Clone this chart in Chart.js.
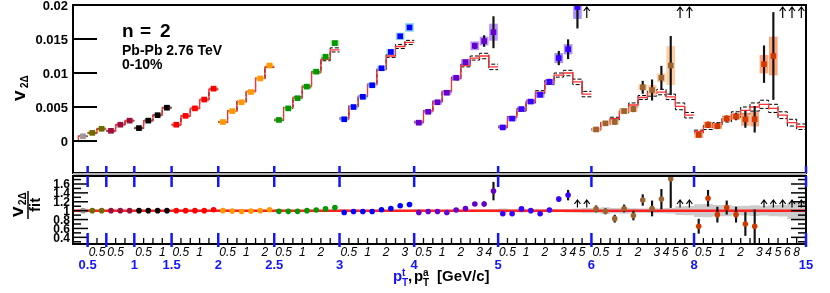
<!DOCTYPE html>
<html>
<head>
<meta charset="utf-8">
<script src="https://cdn.jsdelivr.net/npm/chart.js@4.4.0/dist/chart.umd.min.js"></script>
<style>
  html, body { margin: 0; padding: 0; background: #fff; }
  #wrap { position: relative; width: 830px; height: 293px; }
  #wrap canvas { position: absolute; left: 0; top: 0; }
</style>
</head>
<body>
<div id="wrap">
  <canvas id="topChart" width="830" height="293"></canvas>
  <canvas id="ratioChart" width="830" height="293"></canvas>
</div>
<script>
// pT bin edges (GeV/c), used for both trigger and associated bins
const ptEdges = [0.25, 0.5, 0.75, 1, 1.5, 2, 2.5, 3, 4, 5, 6, 8, 15];
// blue labels under trigger-bin edges, black italic labels under associated-bin edges
const trigLabels = ['', '0.5', '', '1', '1.5', '2', '2.5', '3', '4', '5', '6', '8', '15'];
const assocLabels = ['', '0.5', '', '1', '', '2', '', '3', '4', '5', '6', '8'];

const yTickLabelsTop = ['0', '0.005', '0.01', '0.015', '0.02'];
const yTickLabelsRatio = ['0.4', '0.6', '0.8', '1', '1.2', '1.4', '1.6'];

const groupColors = ['#9a9a9a', '#6b6b00', '#99103d', '#000000', '#ff0000', '#ff9900',
  '#009900', '#0000ff', '#6600cc', '#3a00ff', '#9c6430', '#d03a00'];
const boxColors = ['rgba(160,160,160,0.4)', 'rgba(150,150,0,0.4)', 'rgba(204,60,110,0.4)',
  'rgba(110,110,110,0.4)', 'rgba(255,110,110,0.4)', 'rgba(255,200,110,0.5)',
  'rgba(110,210,110,0.5)', 'rgba(110,200,255,0.75)', 'rgba(160,110,255,0.75)',
  'rgba(140,110,255,0.75)', 'rgba(255,200,150,0.85)', 'rgba(255,150,100,0.85)'];

// v2Δ per trigger bin (outer) and associated bin (inner); null = off scale (arrow)
const v2Vals = [
  [0.0007],
  [0.0012, 0.0018],
  [0.0015, 0.0024, 0.0030],
  [0.0019, 0.0030, 0.0038, 0.0049],
  [0.0024, 0.0037, 0.0048, 0.0061, 0.0077],
  [0.0028, 0.0044, 0.0057, 0.0072, 0.0092, 0.0111],
  [0.0031, 0.0048, 0.0063, 0.0080, 0.0102, 0.0124, 0.0144],
  [0.0032, 0.0050, 0.0065, 0.0082, 0.0107, 0.0131, 0.0154, 0.0167],
  [0.0027, 0.0043, 0.0057, 0.0071, 0.0093, 0.0116, 0.0140, 0.0147, 0.0160],
  [0.0020, 0.0033, 0.0047, 0.0058, 0.0068, 0.0087, 0.0122, 0.0135, 0.0197, null],
  [0.0017, 0.0026, 0.0028, 0.0044, 0.0047, 0.0079, 0.0075, 0.0093, 0.0111, null, null],
  [0.0009, 0.0024, 0.0022, 0.0033, 0.0036, 0.0032, 0.0032, 0.0113, 0.0125, null, null, null]
];
const v2Stat = [
  [0.0001],
  [0.0001, 0.0001],
  [0.0001, 0.0001, 0.0001],
  [0.0001, 0.0001, 0.0001, 0.0001],
  [0.0001, 0.0001, 0.0001, 0.0001, 0.0001],
  [0.0001, 0.0001, 0.0001, 0.0001, 0.0001, 0.0001],
  [0.0001, 0.0001, 0.0001, 0.0001, 0.0001, 0.0001, 0.0002],
  [0.0001, 0.0001, 0.0001, 0.0001, 0.0002, 0.0002, 0.0002, 0.0003],
  [0.0001, 0.0001, 0.0001, 0.0002, 0.0002, 0.0003, 0.0004, 0.0008, 0.0023],
  [0.0001, 0.0001, 0.0002, 0.0002, 0.0003, 0.0004, 0.0010, 0.0014, 0.0031, null],
  [0.0002, 0.0002, 0.0003, 0.0003, 0.0004, 0.0009, 0.0015, 0.0017, 0.0043, null, null],
  [0.0003, 0.0004, 0.0004, 0.0004, 0.0005, 0.0012, 0.0019, 0.0027, 0.0064, null, null, null]
];
const v2Sys = [
  [0.0002],
  [0.0002, 0.0002],
  [0.0002, 0.0002, 0.0002],
  [0.0002, 0.0002, 0.0002, 0.0002],
  [0.0002, 0.0002, 0.0002, 0.0002, 0.0002],
  [0.0002, 0.0002, 0.0002, 0.0002, 0.0002, 0.0002],
  [0.0002, 0.0002, 0.0002, 0.0003, 0.0003, 0.0003, 0.0004],
  [0.0002, 0.0002, 0.0003, 0.0003, 0.0003, 0.0004, 0.0005, 0.0006],
  [0.0002, 0.0002, 0.0003, 0.0003, 0.0003, 0.0004, 0.0006, 0.0006, 0.0012],
  [0.0002, 0.0003, 0.0003, 0.0003, 0.0004, 0.0004, 0.0007, 0.0007, 0.0017, null],
  [0.0003, 0.0003, 0.0003, 0.0004, 0.0004, 0.0004, 0.0007, 0.0006, 0.0028, null, null],
  [0.0004, 0.0004, 0.0004, 0.0004, 0.0004, 0.0009, 0.0010, 0.0013, 0.0028, null, null, null]
];
// global fit (red) and its uncertainty half-width (black dashed)
const fitVals = [
  [0.0007],
  [0.0012, 0.0018],
  [0.0015, 0.0024, 0.0030],
  [0.0019, 0.0030, 0.0038, 0.0049],
  [0.0024, 0.0037, 0.0048, 0.0061, 0.0076],
  [0.0028, 0.0044, 0.0058, 0.0073, 0.0092, 0.0109],
  [0.0031, 0.0049, 0.0064, 0.0080, 0.0101, 0.0120, 0.0134],
  [0.0033, 0.0051, 0.0066, 0.0083, 0.0105, 0.0125, 0.0139, 0.0145],
  [0.0028, 0.0044, 0.0058, 0.0073, 0.0092, 0.0111, 0.0122, 0.0125, 0.0109],
  [0.0021, 0.0035, 0.0046, 0.0058, 0.0072, 0.0086, 0.0097, 0.0100, 0.0087, 0.0069],
  [0.0017, 0.0026, 0.0033, 0.0044, 0.0053, 0.0064, 0.0070, 0.0072, 0.0065, 0.0051, 0.0038],
  [0.0014, 0.0020, 0.0024, 0.0032, 0.0039, 0.0045, 0.0050, 0.0054, 0.0048, 0.0038, 0.0027, 0.0021]
];
const fitBand = [
  [0.00003],
  [0.00003, 0.00003],
  [0.00004, 0.00004, 0.00004],
  [0.00005, 0.00005, 0.00005, 0.00005],
  [0.00006, 0.00006, 0.00006, 0.00006, 0.00006],
  [0.00008, 0.00008, 0.00008, 0.00008, 0.00008, 0.00008],
  [0.0001, 0.0001, 0.0001, 0.0001, 0.0001, 0.0002, 0.0003],
  [0.0001, 0.0001, 0.0001, 0.0001, 0.0001, 0.0002, 0.0003, 0.0003],
  [0.0001, 0.0001, 0.0001, 0.0001, 0.0002, 0.0002, 0.0003, 0.0004, 0.0004],
  [0.0001, 0.0001, 0.0002, 0.0002, 0.0002, 0.0003, 0.0003, 0.0004, 0.0004, 0.0004],
  [0.0001, 0.0002, 0.0002, 0.0003, 0.0003, 0.0003, 0.0004, 0.0004, 0.0004, 0.0005, 0.0004],
  [0.0002, 0.0003, 0.0003, 0.0004, 0.0004, 0.0005, 0.0006, 0.0006, 0.0006, 0.0005, 0.0005, 0.0004]
];
// data / fit
const ratioVals = [
  [1.0],
  [1.0, 1.0],
  [1.0, 1.0, 1.0],
  [1.0, 1.0, 1.0, 1.0],
  [1.0, 1.0, 1.0, 1.0, 1.02],
  [1.0, 0.99, 0.98, 0.99, 1.0, 1.02],
  [0.985, 0.985, 0.985, 1.0, 1.015, 1.04, 1.07],
  [0.96, 0.98, 0.98, 0.98, 1.02, 1.05, 1.11, 1.14],
  [0.96, 0.98, 0.98, 0.96, 1.015, 1.05, 1.15, 1.15, 1.44],
  [0.93, 0.93, 1.04, 1.0, 0.93, 1.015, 1.26, 1.35, null, null],
  [1.04, 0.985, 0.82, 1.05, 0.89, 1.24, 1.05, 1.26, 1.72, null, null],
  [0.65, 1.28, 0.91, 1.07, 0.91, 0.70, 0.65, null, null, null, null, null]
];
const ratioErr = [
  [0.01],
  [0.01, 0.01],
  [0.01, 0.01, 0.01],
  [0.01, 0.01, 0.01, 0.01],
  [0.01, 0.01, 0.01, 0.01, 0.01],
  [0.01, 0.01, 0.01, 0.01, 0.01, 0.01],
  [0.01, 0.01, 0.01, 0.01, 0.01, 0.02, 0.02],
  [0.01, 0.01, 0.01, 0.02, 0.02, 0.02, 0.02, 0.03],
  [0.01, 0.02, 0.02, 0.02, 0.02, 0.03, 0.03, 0.05, 0.20],
  [0.02, 0.02, 0.03, 0.03, 0.03, 0.04, 0.05, 0.11, null, null],
  [0.07, 0.06, 0.08, 0.08, 0.10, 0.12, 0.17, 0.22, 0.65, null, null],
  [0.16, 0.18, 0.17, 0.15, 0.17, 0.26, 0.37, null, null, null, null, null]
];

const X_MIN = -0.57, X_MAX = 78;
const FONT = '"Liberation Sans", Arial, Helvetica, sans-serif';
const BLUE = '#1414ff';

// flatten groups into consecutive bins
const groupStart = [];
const bins = [];
v2Vals.forEach((grp, g) => {
    groupStart.push(bins.length);
    grp.forEach((v, k) => {
        bins.push({
            g, k, x: bins.length + 0.5, v,
            stat: v2Stat[g][k], sys: v2Sys[g][k],
            fit: fitVals[g][k], band: fitBand[g][k],
            r: ratioVals[g][k], rErr: ratioErr[g][k]
        });
    });
});
const nBins = bins.length;

// histogram-style steps; broken = no vertical joins between trigger groups
const stepLine = (fn, broken) => {
    const pts = [];
    bins.forEach((b, i) => {
        if (broken && b.k === 0 && i > 0) pts.push({ x: i, y: null });
        const v = fn(b);
        pts.push({ x: i, y: v }, { x: i + 1, y: v });
    });
    return pts;
};

const withV = bins.filter(b => b.v !== null);
const withR = bins.filter(b => b.r !== null);

// helpers for drawing
const line = (ctx, x0, y0, x1, y1) => {
    ctx.beginPath(); ctx.moveTo(x0, y0); ctx.lineTo(x1, y1); ctx.stroke();
};
const arrowUp = (ctx, x, y0, y1) => {
    ctx.beginPath();
    ctx.moveTo(x, y0); ctx.lineTo(x, y1);
    ctx.moveTo(x - 3, y1 + 4); ctx.lineTo(x, y1); ctx.lineTo(x + 3, y1 + 4);
    ctx.stroke();
};
const rotText = (ctx, str, x, y, font, color) => {
    ctx.save();
    ctx.translate(x, y);
    ctx.rotate(-Math.PI / 2);
    ctx.font = font; ctx.fillStyle = color;
    ctx.textAlign = 'left'; ctx.textBaseline = 'alphabetic';
    ctx.fillText(str, 0, 0);
    ctx.restore();
};

// top panel axes, labels and arrows
const topDecor = {
    id: 'topDecor',
    afterDraw(chart) {
        const { ctx, chartArea: a, scales: { x, y } } = chart;
        ctx.save();
        ctx.strokeStyle = '#000';
        ctx.lineWidth = 2;
        ctx.strokeRect(a.left, a.top, a.right - a.left, a.bottom - a.top);

        ctx.font = 'bold 13px ' + FONT;
        ctx.fillStyle = '#000';
        ctx.textAlign = 'right';
        ctx.textBaseline = 'middle';
        yTickLabelsTop.forEach(lbl => {
            const py = y.getPixelForValue(parseFloat(lbl));
            line(ctx, a.left, py, a.left + 24, py);
            ctx.fillText(lbl, a.left - 5, py + 1);
        });

        ctx.strokeStyle = BLUE;
        ctx.lineWidth = 2.5;
        groupStart.forEach((s, g) => {
            const px = x.getPixelForValue(s + v2Vals[g].length);
            line(ctx, px, a.bottom - 7, px, a.bottom);
        });

        // off-scale arrows
        ctx.strokeStyle = '#000';
        ctx.lineWidth = 1.2;
        bins.filter(b => b.v === null).forEach(b => {
            arrowUp(ctx, x.getPixelForValue(b.x), a.top + 13, a.top + 2);
        });

        ctx.fillStyle = '#000';
        ctx.textAlign = 'left';
        ctx.textBaseline = 'alphabetic';
        ctx.font = 'bold 19px ' + FONT;
        ctx.fillText('n', 122, 37);
        ctx.fillText('=', 140, 37);
        ctx.fillText('2', 160, 37);
        ctx.font = 'bold 14px ' + FONT;
        ctx.fillText('Pb-Pb 2.76 TeV', 122, 55);
        ctx.fillText('0-10%', 122, 69);

        rotText(ctx, 'v', 25, 101, 'bold 19px ' + FONT, '#000');
        rotText(ctx, '2\u0394', 28, 88, 'bold 10px ' + FONT, '#000');
        ctx.restore();
    }
};

// ratio panel axes, labels and arrows
const ratioDecor = {
    id: 'ratioDecor',
    afterDraw(chart) {
        const { ctx, chartArea: a, scales: { x, y } } = chart;
        ctx.save();
        ctx.fillStyle = '#b4b4b4';
        ctx.fillRect(a.left, a.top - 3, a.right - a.left, 3);
        ctx.strokeStyle = '#000';
        ctx.lineWidth = 2;
        ctx.strokeRect(a.left, a.top, a.right - a.left, a.bottom - a.top);

        // y ticks every 0.1, long at labelled ones
        ctx.lineWidth = 1.5;
        for (let t = 3; t <= 17; t++) {
            const py = y.getPixelForValue(t / 10);
            const len = t % 2 === 0 ? 15 : 8;
            line(ctx, a.left, py, a.left + len, py);
            line(ctx, a.right - len, py, a.right, py);
        }
        ctx.font = 'bold 12px ' + FONT;
        ctx.fillStyle = '#000';
        ctx.textAlign = 'right';
        ctx.textBaseline = 'middle';
        yTickLabelsRatio.forEach(lbl => {
            ctx.fillText(lbl, a.left - 3, y.getPixelForValue(parseFloat(lbl)) + 1);
        });

        // associated-bin ticks and labels
        ctx.font = 'italic 12px ' + FONT;
        ctx.textAlign = 'center';
        ctx.textBaseline = 'alphabetic';
        ctx.lineWidth = 1.3;
        groupStart.forEach((s, g) => {
            for (let k = 1; k < v2Vals[g].length; k++) {
                const px = x.getPixelForValue(s + k);
                line(ctx, px, a.bottom, px, a.bottom - 6);
                if (assocLabels[k]) ctx.fillText(assocLabels[k], px, a.bottom + 12);
            }
        });

        // trigger-bin ticks and labels
        ctx.strokeStyle = BLUE;
        ctx.fillStyle = BLUE;
        ctx.lineWidth = 2.5;
        ctx.font = 'bold 13px ' + FONT;
        groupStart.forEach((s, g) => {
            const px = x.getPixelForValue(s + v2Vals[g].length);
            line(ctx, px, a.top, px, a.top + 11);
            line(ctx, px, a.bottom - 11, px, a.bottom + 3);
            const lbl = trigLabels[g + 1];
            if (lbl) ctx.fillText(lbl, px, a.bottom + 25);
        });

        // off-scale arrows
        ctx.strokeStyle = '#000';
        ctx.lineWidth = 1.2;
        bins.filter(b => b.r === null).forEach(b => {
            arrowUp(ctx, x.getPixelForValue(b.x), y.getPixelForValue(1.07), y.getPixelForValue(1.24));
        });

        // x title
        ctx.textAlign = 'left';
        ctx.font = 'bold 15px ' + FONT;
        ctx.fillStyle = BLUE;
        ctx.fillText('p', 393, 281);
        ctx.font = 'bold 10px ' + FONT;
        ctx.fillText('T', 402, 286);
        ctx.fillText('t', 402, 276);
        ctx.fillStyle = '#000';
        ctx.font = 'bold 15px ' + FONT;
        ctx.fillText(',', 408, 281);
        ctx.fillText('p', 414, 281);
        ctx.font = 'bold 10px ' + FONT;
        ctx.fillText('T', 423, 286);
        ctx.fillText('a', 423, 276);
        ctx.font = 'bold 15px ' + FONT;
        ctx.fillText('[GeV/c]', 437, 281);

        // y title as a fraction
        rotText(ctx, 'v', 23, 217, 'bold 19px ' + FONT, '#000');
        rotText(ctx, '2\u0394', 26, 205, 'bold 10px ' + FONT, '#000');
        ctx.strokeStyle = '#000';
        ctx.lineWidth = 1.5;
        line(ctx, 28, 191, 28, 219);
        rotText(ctx, 'fit', 40, 212, 'bold 15px ' + FONT, '#000');
        ctx.restore();
    }
};

const baseOptions = (padding, yMin, yMax) => ({
    responsive: false,
    animation: false,
    devicePixelRatio: 1,
    events: [],
    layout: { padding },
    scales: {
        x: { type: 'linear', min: X_MIN, max: X_MAX, offset: false, display: false },
        y: { type: 'linear', min: yMin, max: yMax, display: false }
    },
    plugins: { legend: { display: false }, tooltip: { enabled: false } }
});

// top panel
const redSteps = [{ x: X_MIN, y: 0 }, { x: 0, y: 0 }, ...stepLine(b => b.fit, true), { x: nBins, y: 0 }];

const topChart = new Chart(document.getElementById('topChart'), {
    type: 'scatter',
    data: {
        datasets: [
            {
                type: 'scatter', order: 0, clip: 0,
                data: withV.map(b => ({ x: b.x, y: b.v })),
                pointStyle: 'rect', pointRadius: 4, pointBorderWidth: 0,
                pointBackgroundColor: withV.map(b => groupColors[b.g])
            },
            {
                type: 'bar', order: 1, clip: 0, grouped: false, barThickness: 1.5,
                data: withV.map(b => ({ x: b.x, y: [b.v - b.stat, b.v + b.stat] })),
                backgroundColor: '#111'
            },
            {
                type: 'bar', order: 2, clip: 0, grouped: false, barThickness: 8,
                data: withV.map(b => ({ x: b.x, y: [b.v - b.sys, b.v + b.sys] })),
                backgroundColor: withV.map(b => boxColors[b.g])
            },
            {
                type: 'line', order: 3, clip: 0, data: redSteps, spanGaps: false,
                borderColor: '#ff3030', borderWidth: 1.3, pointRadius: 0, tension: 0
            },
            {
                type: 'line', order: 4, clip: 0, spanGaps: false,
                data: stepLine(b => b.fit + b.band, true),
                borderColor: '#000', borderWidth: 1, borderDash: [4, 2], pointRadius: 0
            },
            {
                type: 'line', order: 5, clip: 0, spanGaps: false,
                data: stepLine(b => b.fit - b.band, true),
                borderColor: '#000', borderWidth: 1, borderDash: [4, 2], pointRadius: 0
            }
        ]
    },
    options: baseOptions({ left: 73, right: 24, top: 5, bottom: 120 }, -0.0047, 0.02),
    plugins: [topDecor]
});

// ratio panel
const ratioChart = new Chart(document.getElementById('ratioChart'), {
    type: 'scatter',
    data: {
        datasets: [
            {
                type: 'line', order: 6, clip: 0,
                data: stepLine(b => 1 + b.band / b.fit, false),
                borderColor: 'rgba(0,0,0,0)', pointRadius: 0, fill: false
            },
            {
                type: 'line', order: 5, clip: 0,
                data: stepLine(b => 1 - b.band / b.fit, false),
                borderColor: 'rgba(0,0,0,0)', pointRadius: 0,
                fill: '-1', backgroundColor: 'rgba(195,195,195,0.85)'
            },
            {
                type: 'line', order: 3, clip: 0,
                data: [{ x: X_MIN, y: 1 }, { x: X_MAX, y: 1 }],
                borderColor: '#ff2020', borderWidth: 2.5, pointRadius: 0
            },
            {
                type: 'bar', order: 1, clip: 0, grouped: false, barThickness: 1.5,
                data: withR.map(b => ({ x: b.x, y: [b.r - b.rErr, b.r + b.rErr] })),
                backgroundColor: '#111'
            },
            {
                type: 'scatter', order: 0, clip: 0,
                data: withR.map(b => ({ x: b.x, y: b.r })),
                pointStyle: 'circle', pointRadius: 2.8, pointBorderWidth: 0,
                pointBackgroundColor: withR.map(b => groupColors[b.g])
            }
        ]
    },
    options: baseOptions({ left: 73, right: 24, top: 176, bottom: 49 }, 0.25, 1.78),
    plugins: [ratioDecor]
});
</script>
</body>
</html>
